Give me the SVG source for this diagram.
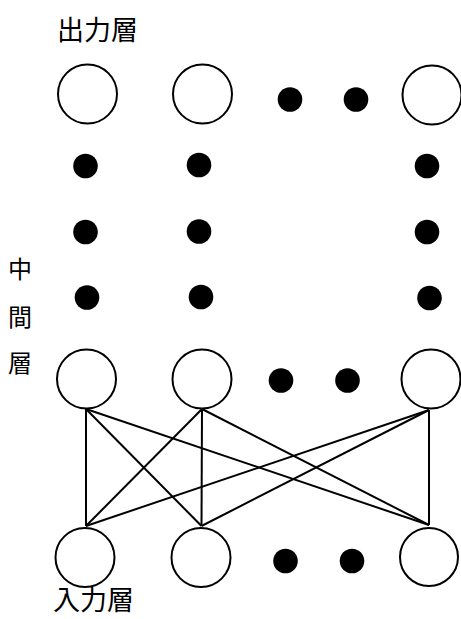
<svg xmlns="http://www.w3.org/2000/svg" width="461" height="619" viewBox="0 0 461 619">
<style>
.n{fill:#fff;stroke:#000;stroke-width:2}
.d{fill:#000}
.t{font-family:"Noto Sans CJK JP","Liberation Serif",sans-serif;font-size:27px;fill:#000}
.v{font-size:24px}
.c line{stroke:#000;stroke-width:2}
</style>
<rect width="461" height="619" fill="#fff"/>
<text class="t" x="57" y="40">出力層</text>
<text class="t v" x="8" y="278">中</text>
<text class="t v" x="8" y="326">間</text>
<text class="t v" x="8" y="372">層</text>
<text class="t" x="53" y="610">入力層</text>
<g id="out1"><circle class="n" cx="87.5" cy="94" r="29.5"/></g>
<g id="out2"><circle class="n" cx="202.5" cy="94" r="29.5"/></g>
<g id="out3"><circle class="n" cx="432" cy="95" r="29.5"/></g>
<g id="outdots"><circle class="d" cx="290" cy="99.5" r="12.3"/><circle class="d" cx="356" cy="99.5" r="12.3"/></g>
<g id="col1dots"><circle class="d" cx="85.5" cy="166" r="12.3"/><circle class="d" cx="85.5" cy="232" r="12.3"/><circle class="d" cx="87" cy="297.5" r="12.3"/></g>
<g id="col2dots"><circle class="d" cx="199" cy="165" r="12.3"/><circle class="d" cx="199" cy="231.5" r="12.3"/><circle class="d" cx="201" cy="297" r="12.3"/></g>
<g id="col3dots"><circle class="d" cx="427" cy="166" r="12.3"/><circle class="d" cx="427" cy="232" r="12.3"/><circle class="d" cx="429.5" cy="298" r="12.3"/></g>
<g id="mid1"><circle class="n" cx="86.5" cy="379" r="29.5"/></g>
<g id="mid2"><circle class="n" cx="202" cy="379" r="29.5"/></g>
<g id="mid3"><circle class="n" cx="431" cy="379" r="29.5"/></g>
<g id="middots"><circle class="d" cx="281" cy="380.5" r="12.3"/><circle class="d" cx="347.5" cy="380.5" r="12.3"/></g>
<g id="in1"><circle class="n" cx="85" cy="557.5" r="29.5"/></g>
<g id="in2"><circle class="n" cx="201" cy="557.5" r="29.5"/></g>
<g id="in3"><circle class="n" cx="429" cy="557" r="29"/></g>
<g id="indots"><circle class="d" cx="285.5" cy="561" r="12.3"/><circle class="d" cx="352" cy="561" r="12.3"/></g>
<g id="connectors" class="c">
<line x1="86" y1="409" x2="86" y2="526"/>
<line x1="86" y1="409" x2="201.5" y2="526"/>
<line x1="86" y1="409" x2="429" y2="525"/>
<line x1="202" y1="409" x2="86" y2="526"/>
<line x1="202" y1="409" x2="201.5" y2="526"/>
<line x1="202" y1="409" x2="429" y2="525"/>
<line x1="429" y1="410" x2="86" y2="526"/>
<line x1="429" y1="410" x2="201.5" y2="526"/>
<line x1="429" y1="410" x2="429" y2="525"/>
</g>
</svg>
